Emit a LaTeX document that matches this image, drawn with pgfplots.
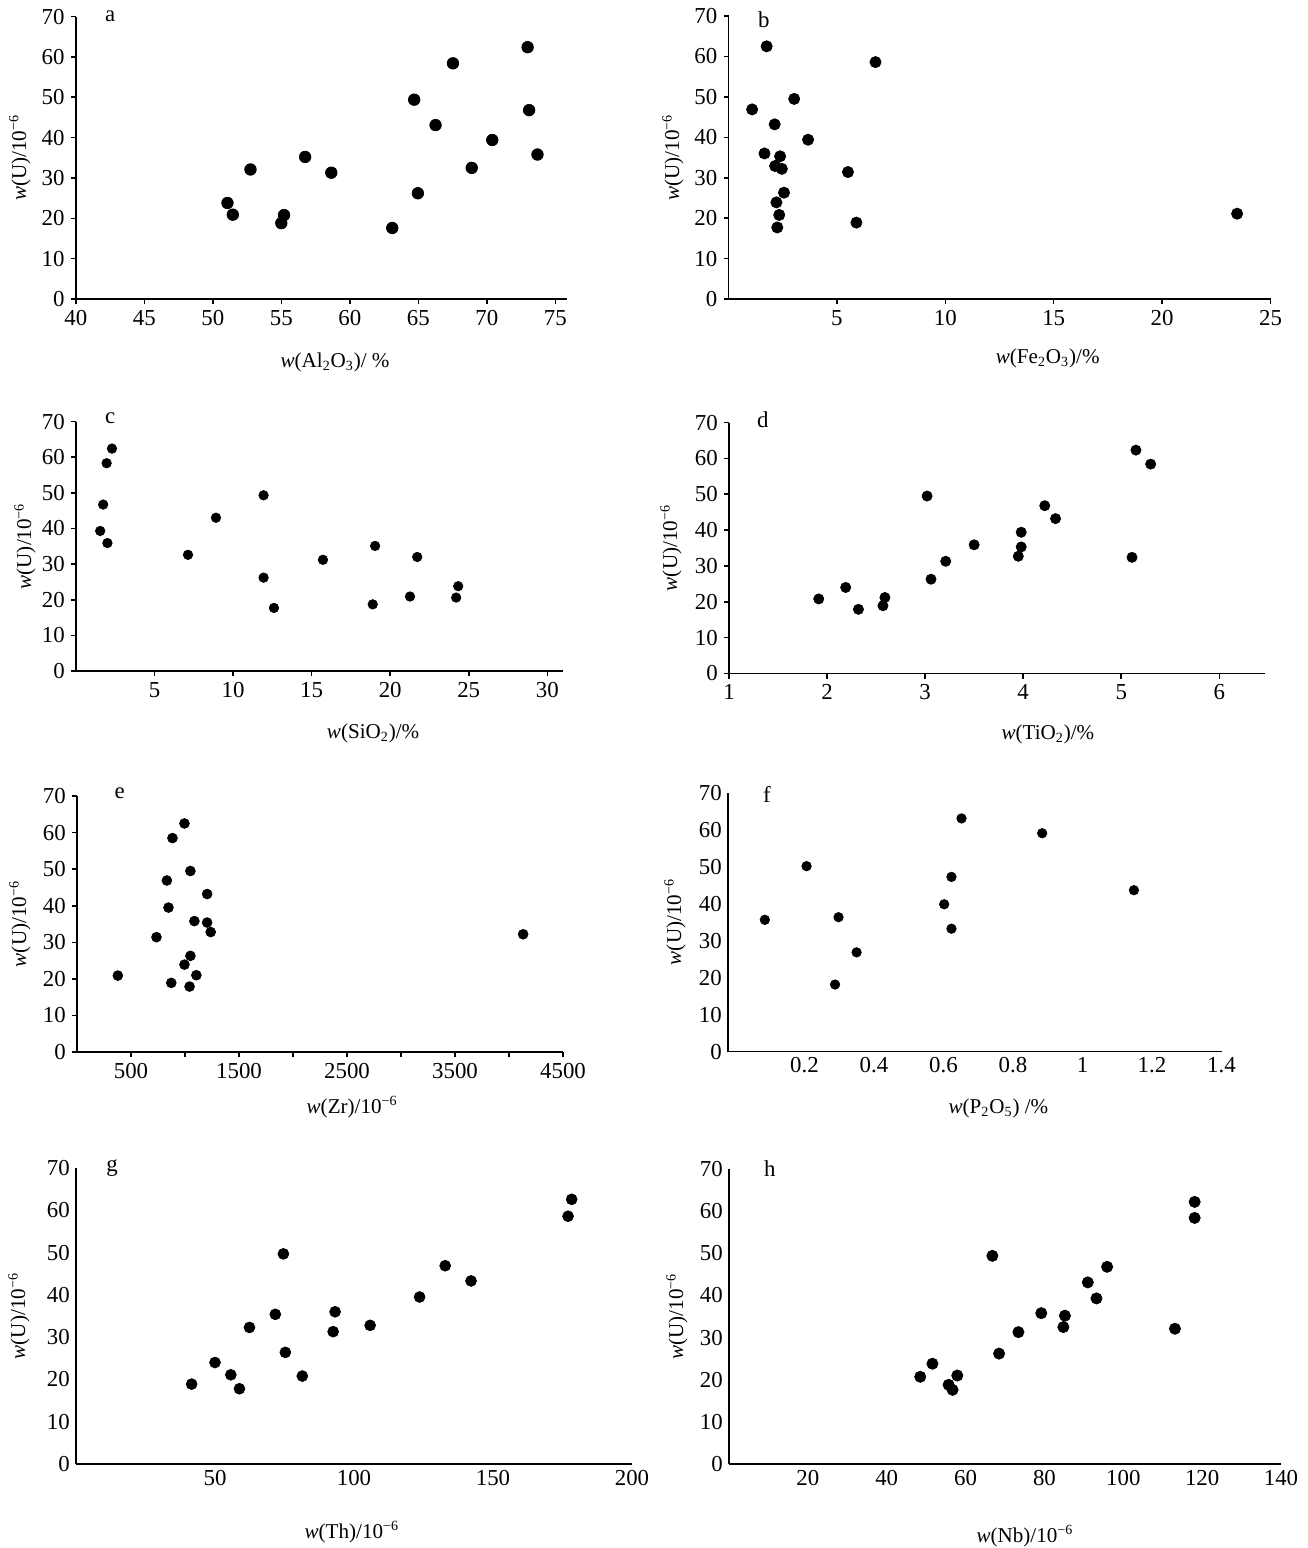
\documentclass[border=0pt]{standalone}
\usepackage{fontspec}
\setmainfont{Liberation Serif}
\usepackage{pgfplots}
\pgfplotsset{compat=1.18}

\pgfplotsset{
  panel/.style={
    scale only axis, anchor=south west, clip=false,
    axis lines=left, axis line style={-, line width=0.9pt},
    ymin=0, ymax=70, ytick={0,10,...,70},
    tick align=outside, major tick length=0.1cm,
    tick style={black, line width=0.9pt},
    /pgf/number format/assume math mode=true,
    tick label style={font=\fontsize{13}{15}\selectfont},
    font=\fontsize{12}{14}\selectfont,
  },
  dots/.style={only marks, mark=*, mark size=#1, black},
}
\newcommand{\ylab}[1]{\node[rotate=90] at ([xshift=#1]rel axis cs:0,0.5) {\textit{w}(U)/10\textsuperscript{−6}};}
\newcommand{\plet}{\fontsize{13}{15}\selectfont}

\begin{document}
\begin{tikzpicture}
\path[use as bounding box] (0,0) rectangle (26.16,-30.96);

% a
\begin{axis}[panel, at={(1.516cm,-5.98cm)}, width=9.82cm, height=5.65cm,
  xmin=40, xmax=75.84, xtick={40,45,...,75}]
\addplot[dots=3.3pt] coordinates {(51.07,23.8) (51.46,20.9) (52.75,32.1) (55.0,18.8) (55.2,20.8) (56.74,35.2) (58.65,31.3) (63.1,17.6) (64.7,49.4) (64.97,26.2) (66.26,43.1) (67.53,58.4) (68.9,32.5) (70.4,39.4) (72.98,62.4) (73.09,46.8) (73.7,35.8)};
\node[font=\plet] at (rel axis cs:0.07,1) {a};
\node at ([yshift=-1.26cm]rel axis cs:0.528,0) {\textit{w}(Al\textsubscript{2}O\textsubscript{3})/ \%};
\ylab{-1.12cm}
\end{axis}

% b
\begin{axis}[panel, at={(14.57cm,-5.98cm)}, width=10.84cm, height=5.66cm,
  xmin=0, xmax=25, xtick={5,10,...,25}]
\addplot[dots=3.2pt] coordinates {(1.76,62.5) (6.78,58.6) (3.03,49.5) (1.09,46.9) (2.13,43.2) (3.67,39.4) (1.66,36.0) (2.38,35.3) (2.15,32.9) (2.46,32.2) (5.51,31.4) (2.56,26.3) (2.21,23.9) (2.34,20.8) (2.25,17.7) (5.9,18.9) (23.46,21.1)};
\node[font=\plet] at ([yshift=-0.08cm]rel axis cs:0.065,1) {b};
\node at ([yshift=-1.18cm]rel axis cs:0.589,0) {\textit{w}(Fe\textsubscript{2}O\textsubscript{3})/\%};
\ylab{-1.11cm}
\end{axis}

% c
\begin{axis}[panel, at={(1.52cm,-13.42cm)}, width=9.74cm, height=4.99cm,
  xmin=0, xmax=31, xtick={5,10,...,30}]
\addplot[dots=2.7pt] coordinates {(2.29,62.4) (1.95,58.3) (1.73,46.7) (1.54,39.3) (2.0,35.9) (7.13,32.6) (8.91,43.0) (11.94,49.3) (11.94,26.2) (12.6,17.7) (15.72,31.2) (19.04,35.1) (18.89,18.7) (21.72,32.0) (21.26,20.9) (24.33,23.8) (24.2,20.6)};
\node[font=\plet] at ([yshift=0.06cm]rel axis cs:0.07,1) {c};
\node at ([yshift=-1.24cm]rel axis cs:0.61,0) {\textit{w}(SiO\textsubscript{2})/\%};
\ylab{-1.02cm}
\end{axis}

% d
\begin{axis}[panel, at={(14.58cm,-13.47cm)}, width=10.72cm, height=5.02cm,
  xmin=1, xmax=6.466, xtick={1,2,...,6}]
\addplot[dots=2.9pt] coordinates {(1.915,20.8) (2.19,24.0) (2.32,17.9) (2.57,18.9) (2.59,21.2) (3.02,49.5) (3.06,26.3) (3.21,31.3) (3.50,35.9) (3.95,32.7) (3.98,35.3) (3.98,39.4) (4.22,46.8) (4.33,43.2) (5.11,32.4) (5.15,62.3) (5.30,58.4)};
\node[font=\plet] at ([yshift=0.06cm]rel axis cs:0.063,1) {d};
\node at ([yshift=-1.22cm]rel axis cs:0.595,0) {\textit{w}(TiO\textsubscript{2})/\%};
\ylab{-1.16cm}
\end{axis}

% e
\begin{axis}[panel, at={(1.54cm,-21.04cm)}, width=9.72cm, height=5.12cm,
  xmin=0, xmax=4500, xtick={500,1000,...,4500},
  xticklabels={500,,1500,,2500,,3500,,4500}]
\addplot[dots=2.8pt] coordinates {(378,20.9) (736,31.4) (832,46.9) (847,39.5) (884,58.5) (873,18.9) (995,62.5) (995,23.9) (1050,49.5) (1050,26.3) (1042,17.9) (1087,35.8) (1105,21.0) (1205,43.2) (1205,35.4) (1238,32.8) (4131,32.2)};
\node[font=\plet] at ([yshift=0.06cm]rel axis cs:0.088,1) {e};
\node at ([yshift=-1.1cm]rel axis cs:0.566,0) {\textit{w}(Zr)/10\textsuperscript{−6}};
\ylab{-1.14cm}
\end{axis}

% f
\begin{axis}[panel, at={(14.56cm,-21.03cm)}, width=9.87cm, height=5.18cm,
  xmin=-0.02, xmax=1.4, xtick={0.2,0.4,0.6,0.8,1,1.2,1.4}, major tick length=0pt]
\addplot[dots=2.7pt] coordinates {(0.086,35.6) (0.206,50.1) (0.298,36.3) (0.288,18.1) (0.35,26.8) (0.602,39.8) (0.623,47.2) (0.623,33.2) (0.652,63.0) (0.884,59.0) (1.148,43.6)};
\node[font=\plet] at ([yshift=-0.04cm]rel axis cs:0.079,1) {f};
\node at ([yshift=-1.14cm]rel axis cs:0.548,0) {\textit{w}(P\textsubscript{2}O\textsubscript{5}) /\%};
\ylab{-1.06cm}
\end{axis}

% g
\begin{axis}[panel, at={(1.52cm,-29.28cm)}, width=11.12cm, height=5.92cm,
  xmin=0, xmax=200, xtick={50,100,150,200}, major tick length=0pt]
\addplot[dots=3.1pt] coordinates {(41.6,18.9) (50.0,24.0) (55.7,21.1) (58.8,17.8) (62.4,32.3) (71.7,35.4) (74.6,49.7) (75.3,26.4) (81.4,20.8) (92.5,31.3) (93.2,36.0) (105.8,32.8) (123.6,39.5) (132.8,46.9) (142.1,43.3) (177.0,58.6) (178.3,62.6)};
\node[font=\plet] at (rel axis cs:0.065,1) {g};
\node at ([yshift=-1.36cm]rel axis cs:0.496,0) {\textit{w}(Th)/10\textsuperscript{−6}};
\ylab{-1.14cm}
\end{axis}

% h
\begin{axis}[panel, at={(14.58cm,-29.28cm)}, width=11.04cm, height=5.9cm,
  xmin=0, xmax=140, xtick={20,40,...,140}, major tick length=0pt]
\addplot[dots=3.2pt] coordinates {(48.5,20.7) (51.6,23.8) (55.7,18.8) (56.7,17.6) (57.9,21.0) (66.8,49.4) (68.5,26.2) (73.4,31.3) (79.2,35.8) (84.8,32.5) (85.2,35.2) (91.0,43.1) (93.2,39.3) (95.9,46.8) (113.1,32.1) (118.1,62.2) (118.1,58.4)};
\node[font=\plet] at (rel axis cs:0.074,1) {h};
\node at ([yshift=-1.44cm]rel axis cs:0.536,0) {\textit{w}(Nb)/10\textsuperscript{−6}};
\ylab{-1.04cm}
\end{axis}
\end{tikzpicture}
\end{document}
